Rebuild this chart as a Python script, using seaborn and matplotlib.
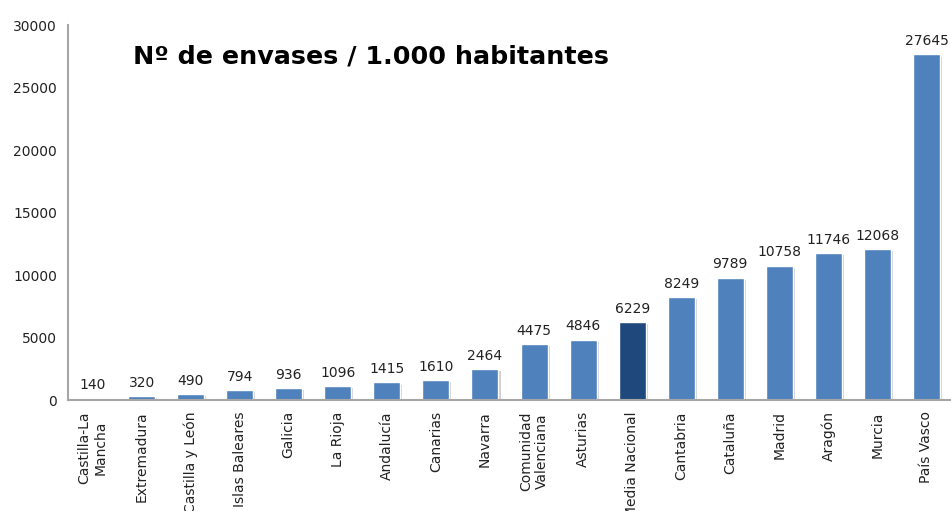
import matplotlib
matplotlib.use("Agg")
import matplotlib.pyplot as plt
import matplotlib.patheffects as pe
import seaborn as sns
import pandas as pd

regions = [
    "Castilla-La\nMancha", "Extremadura", "Castilla y León", "Islas Baleares",
    "Galicia", "La Rioja", "Andalucía", "Canarias", "Navarra",
    "Comunidad\nValenciana", "Asturias", "Media Nacional", "Cantabria",
    "Cataluña", "Madrid", "Aragón", "Murcia", "País Vasco",
]
envases = [140, 320, 490, 794, 936, 1096, 1415, 1610, 2464,
           4475, 4846, 6229, 8249, 9789, 10758, 11746, 12068, 27645]
y_ticks = [0, 5000, 10000, 15000, 20000, 25000, 30000]
title = "Nº de envases / 1.000 habitantes"

df = pd.DataFrame({"region": regions, "envases": envases})
df["grupo"] = ["media" if r == "Media Nacional" else "ccaa" for r in regions]

sns.set_style("white")
plt.rcParams["font.family"] = ["DejaVu Sans"]

fig = plt.figure(figsize=(9.51, 5.11), dpi=100)
ax = fig.add_axes([0.0715, 0.217, 0.9285, 0.734])

sns.barplot(data=df, x="region", y="envases", hue="grupo",
            palette={"ccaa": "#4F81BD", "media": "#1F497D"},
            width=0.55, dodge=False, legend=False, ax=ax, saturation=1)

for bar in ax.patches:
    bar.set_path_effects([pe.SimplePatchShadow(offset=(1.5, -1.5), shadow_rgbFace="#B0B0B0", alpha=0.6),
                          pe.Normal()])

for i, v in enumerate(envases):
    ax.text(i, v + 500, str(v), ha="center", va="bottom", fontsize=10, color="#222222")

ax.set_ylim(0, 30000)
ax.set_xlim(-0.5, len(regions) - 0.5)
ax.set_yticks(y_ticks)
ax.set_yticklabels([str(t) for t in y_ticks], fontsize=10, color="#222222")
ax.set_xticks(range(len(regions)))
ax.set_xticklabels(regions, rotation=90, fontsize=10, color="#222222",
                   ha="center", va="top", multialignment="center")
ax.tick_params(axis="both", length=0, pad=8)
ax.set_xlabel("")
ax.set_ylabel("")

for side in ["top", "right"]:
    ax.spines[side].set_visible(False)
for side in ["left", "bottom"]:
    ax.spines[side].set_color("#A6A6A6")
    ax.spines[side].set_linewidth(1.5)

fig.text(133 / 951, 1 - 57 / 511, title, fontsize=18.3, fontweight="bold",
         ha="left", va="center", color="#000000")

fig.savefig("out.png", dpi=100)
